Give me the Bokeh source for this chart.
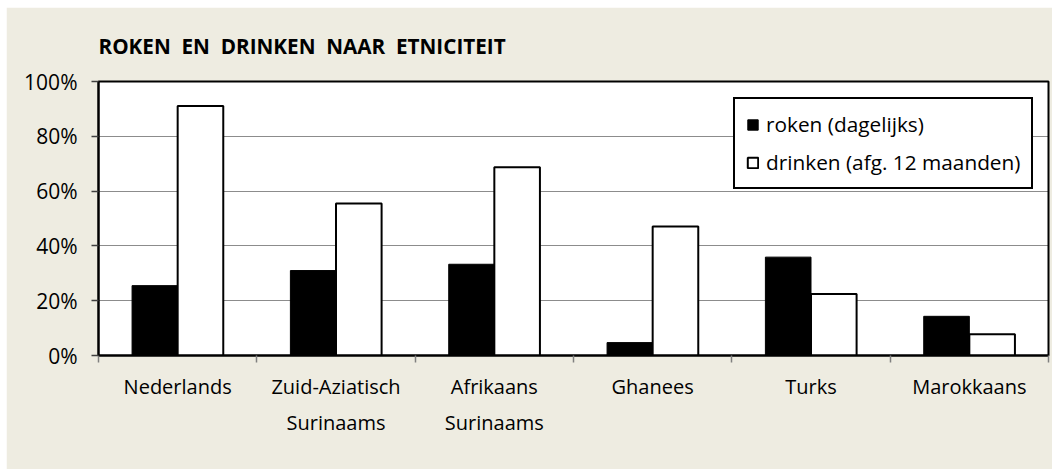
from bokeh.plotting import figure
from bokeh.models import (ColumnDataSource, Range1d, FixedTicker, PrintfTickFormatter,
                          Legend, LegendItem)
from bokeh.transform import dodge
from bokeh.embed import file_html
from bokeh.resources import INLINE

# ---- data ----
categories = ["Nederlands", "Zuid-Aziatisch\nSurinaams", "Afrikaans\nSurinaams",
              "Ghanees", "Turks", "Marokkaans"]
roken = [25.5, 31.0, 33.3, 4.7, 35.9, 14.3]
drinken = [91.1, 55.5, 68.7, 47.1, 22.4, 7.8]
series_names = ["roken (dagelijks)", "drinken (afg. 12 maanden)"]
y_ticks = [0, 20, 40, 60, 80, 100]
title_text = "ROKEN\u00a0 EN\u00a0 DRINKEN\u00a0 NAAR\u00a0 ETNICITEIT"

FONT = "Open Sans"
BG = "#EEECE1"

n = len(categories)
centers = [i + 0.5 for i in range(n)]          # one slot per category
bounds = [float(i) for i in range(n + 1)]      # slot boundaries (tick marks)

src = ColumnDataSource(dict(xc=centers, roken=roken, drinken=drinken))

p = figure(width=1046, height=462, output_backend="svg", toolbar_location=None,
           x_range=Range1d(0, n), y_range=Range1d(0, 100),
           min_border_left=92, min_border_right=4, min_border_top=74,
           min_border_bottom=114)
p.styles = {"margin-left": "6px", "margin-top": "7px"}
p.background_fill_color = "white"
p.border_fill_color = BG
p.outline_line_color = "black"
p.outline_line_width = 2

# title
p.title.text = title_text
p.title.text_font = FONT
p.title.text_font_size = "20.7px"
p.title.text_font_style = "bold"
p.title.text_color = "black"
p.title.offset = 0
p.title.standoff = 43

bw = 0.288
r1 = p.vbar(x=dodge("xc", -bw / 2), top="roken", width=bw, bottom=0,
            source=src, fill_color="black", line_color="black", line_width=1)
r2 = p.vbar(x=dodge("xc", bw / 2), top="drinken", width=bw, bottom=0,
            source=src, fill_color="white", line_color="black", line_width=2)

# y axis
ya = p.yaxis[0]
ya.ticker = FixedTicker(ticks=y_ticks)
ya.formatter = PrintfTickFormatter(format="%d%%")
ya.major_label_text_font = FONT
ya.major_label_text_font_size = "21px"
ya.major_label_text_color = "black"
ya.axis_line_color = "black"
ya.axis_line_width = 2
ya.major_tick_out = 7
ya.major_tick_in = 0
ya.major_tick_line_color = "#404040"
ya.major_tick_line_width = 1.5
ya.minor_tick_out = 0
ya.minor_tick_in = 0
ya.major_label_standoff = 14

# grid
p.xgrid.visible = False
p.ygrid.ticker = FixedTicker(ticks=y_ticks[1:-1])
p.ygrid.grid_line_color = "black"
p.ygrid.grid_line_alpha = 0.9
p.ygrid.grid_line_dash = "1 1"
p.ygrid.grid_line_width = 1

# x axis: labels at slot centres, tick marks on slot boundaries
xa = p.xaxis[0]
xa.ticker = FixedTicker(ticks=centers, minor_ticks=bounds)
xa.major_label_overrides = {c: lab for c, lab in zip(centers, categories)}
xa.major_label_text_font = FONT
xa.major_label_text_font_size = "20px"
xa.major_label_text_color = "black"
xa.major_label_text_line_height = 1.36
xa.axis_line_color = "black"
xa.axis_line_width = 2
xa.major_tick_out = 0
xa.major_tick_in = 0
xa.minor_tick_out = 7
xa.minor_tick_in = 0
xa.minor_tick_line_color = "#808080"
xa.minor_tick_line_width = 1.5
xa.major_label_standoff = 10

legend = Legend(items=[LegendItem(label=series_names[0], renderers=[r1]),
                       LegendItem(label=series_names[1], renderers=[r2])],
                location=(635, 166))
legend.label_text_font = FONT
legend.label_text_font_size = "20.8px"
legend.label_text_color = "black"
legend.glyph_width = 13
legend.glyph_height = 13
legend.label_height = 25
legend.label_standoff = 7
legend.padding = 11
legend.spacing = 10
legend.margin = 0
legend.border_line_color = "black"
legend.border_line_alpha = 1
legend.border_line_width = 2
legend.background_fill_color = "white"
legend.background_fill_alpha = 1
p.add_layout(legend, "center")

open("out.html", "w").write(file_html(p, INLINE))
